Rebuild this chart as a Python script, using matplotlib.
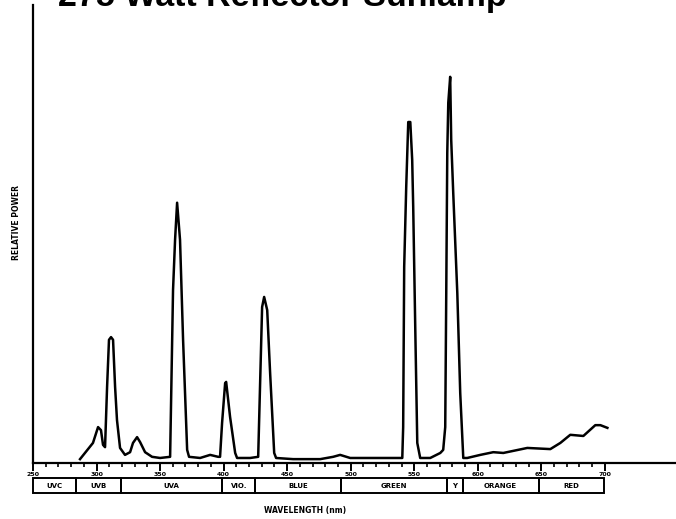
import matplotlib.pyplot as plt
import numpy as np

# === Spectrum (wavelength in nm, relative power) ===
wavelength = [287.0, 297.2, 301.2, 303.5, 305.1, 306.7, 308.3, 309.8, 311.4, 313.0,
              314.6, 316.1, 318.5, 322.4, 326.4, 328.7, 331.9, 334.3, 338.2, 343.7,
              350.0, 357.9, 360.2, 361.8, 363.4, 365.7, 368.1, 371.3, 372.8, 381.5,
              389.4, 395.7, 397.2, 398.8, 401.2, 402.0, 405.1, 409.1, 410.6, 420.9,
              427.2, 430.3, 431.9, 434.3, 436.6, 439.8, 441.3, 454.7, 476.0, 486.2,
              491.7, 499.6, 505.1, 533.5, 540.6, 541.3, 542.1, 543.7, 545.3, 546.9,
              548.4, 549.2, 550.8, 552.4, 554.7, 562.6, 570.5, 572.8, 574.4, 575.2,
              576.0, 576.8, 578.3, 579.1, 580.7, 583.9, 586.2, 588.6, 591.7, 602.0,
              612.2, 620.1, 639.0, 657.1, 665.0, 672.8, 683.1, 692.5, 696.5, 702.0]
power = [1.0, 5.2, 9.3, 8.5, 4.7, 4.1, 19.7, 31.9, 32.6, 31.9,
         19.7, 11.1, 3.9, 2.1, 2.8, 5.2, 6.7, 5.4, 2.8, 1.6,
         1.3, 1.6, 44.8, 57.8, 67.4, 57.8, 31.9, 3.4, 1.6, 1.3,
         2.1, 1.6, 1.6, 10.4, 20.7, 21.0, 11.9, 2.6, 1.3, 1.3,
         1.6, 40.4, 43.0, 39.6, 23.3, 2.6, 1.3, 1.0, 1.0, 1.6,
         2.1, 1.3, 1.3, 1.3, 1.3, 9.3, 50.8, 71.5, 88.3, 88.3,
         78.5, 66.3, 35.2, 5.2, 1.3, 1.3, 2.6, 3.4, 9.3, 44.0,
         80.3, 93.3, 100.0, 83.7, 69.9, 44.0, 18.1, 1.3, 1.3, 2.1,
         2.8, 2.6, 3.9, 3.6, 5.2, 7.3, 7.0, 9.8, 9.8, 9.1]

# spectral band strip under the axis
band_edges = [250, 284, 319, 399, 425, 492, 576, 588, 648, 699]
band_names = ['UVC', 'UVB', 'UVA', 'VIO.', 'BLUE', 'GREEN', 'Y', 'ORANGE', 'RED']

tick_values = [250, 300, 350, 400, 450, 500, 550, 600, 650, 700]

fig = plt.figure(figsize=(6.76, 5.19), dpi=100)
ax = fig.add_axes([33 / 676, 1 - 463 / 519, 1 - 33 / 676, 458 / 519])

ax.plot(wavelength, power, color='black', linewidth=1.8, solid_joinstyle='round')

ax.set_xlim(250, 756)
ax.set_ylim(0, 118.6)

for side in ['top', 'right']:
    ax.spines[side].set_visible(False)
for side in ['left', 'bottom']:
    ax.spines[side].set_linewidth(1.6)

ax.set_yticks([])
ax.set_xticks(tick_values)
ax.set_xticklabels([str(v) for v in tick_values], fontsize=4.5, fontweight='bold')
ax.set_xticks(np.arange(250, 701, 10), minor=True)
ax.tick_params(axis='x', which='major', direction='out', length=6, width=1.4, pad=0.5)
ax.tick_params(axis='x', which='minor', direction='out', length=3, width=1.2)

# band boxes (x in data units, y in axes fraction)
trans = ax.get_xaxis_transform()
y_top = -15 / 458
y_bot = -30 / 458
for i, name in enumerate(band_names):
    x0, x1 = band_edges[i], band_edges[i + 1]
    ax.add_patch(plt.Rectangle((x0, y_bot), x1 - x0, y_top - y_bot, transform=trans,
                               fill=False, edgecolor='black', linewidth=1.4, clip_on=False))
    ax.text((x0 + x1) / 2, (y_top + y_bot) / 2, name, transform=trans, ha='center',
            va='center', fontsize=5, fontweight='bold')

fig.text(305 / 676, 1 - 510 / 519, 'WAVELENGTH (nm)', ha='center', va='center',
         fontsize=5.5, fontweight='bold')
fig.text(17 / 676, 1 - 222 / 519, 'RELATIVE POWER', ha='center', va='center',
         rotation=90, fontsize=5.5, fontweight='bold')

# title, cropped at the top edge in the reference
fig.text(58 / 676, 1 - 6 / 519, '275 Watt Reflector Sunlamp', ha='left', va='baseline',
         fontsize=24.5, fontweight='bold', family='Liberation Sans')

fig.savefig('out.png', dpi=100)
